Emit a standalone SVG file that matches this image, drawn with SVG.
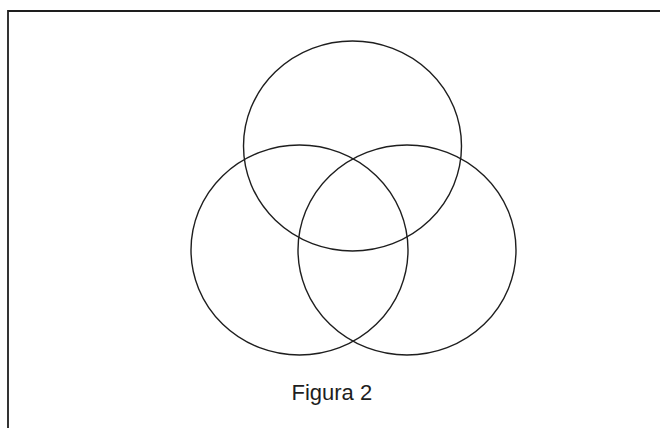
<svg xmlns="http://www.w3.org/2000/svg" width="660" height="428" viewBox="0 0 660 428">
<style>
.c{fill:none;stroke:#1e1e1e;stroke-width:1.4}
.f{fill:none;stroke:#1e1e1e;stroke-width:1.8}
.t{font-family:"Liberation Sans",Arial,sans-serif;font-size:22px;fill:#1e1e1e}
</style>
<rect width="660" height="428" fill="#ffffff"/>
<g id="frame">
<path class="f" d="M8,428 V11 H660"/>
</g>
<g id="circle-top"><ellipse class="c" cx="352.5" cy="146" rx="109" ry="105"/></g>
<g id="circle-left"><ellipse class="c" cx="299.5" cy="250" rx="108.5" ry="105"/></g>
<g id="circle-right"><ellipse class="c" cx="407" cy="250" rx="109" ry="105"/></g>
<g id="connectors"></g>
<g id="caption"><text class="t" x="291.5" y="399.5">Figura 2</text></g>
</svg>
